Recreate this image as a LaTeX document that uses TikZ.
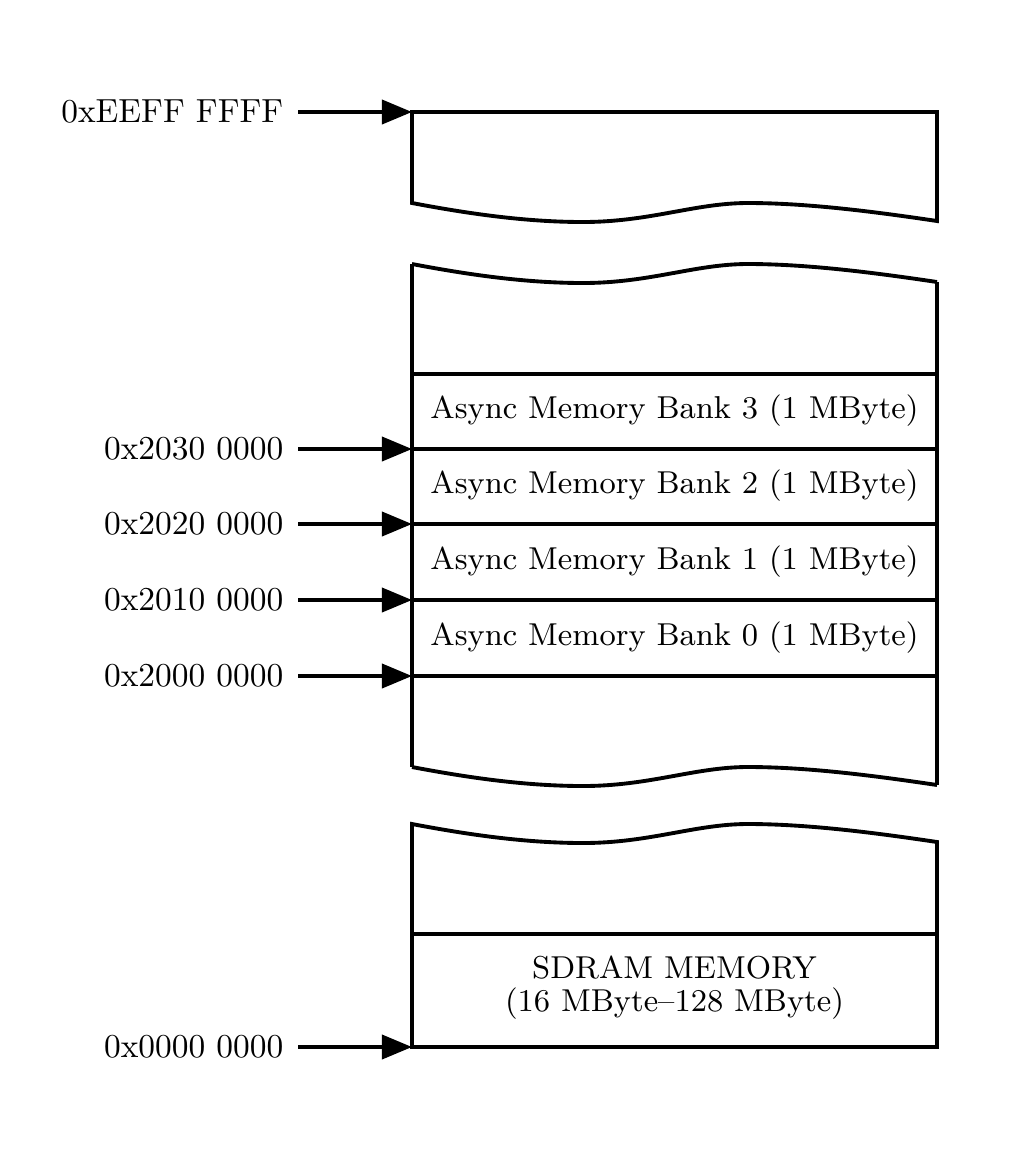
\documentclass[tikz,border=0pt]{standalone}
\usepackage{tikz}
\usetikzlibrary{arrows.meta}

\tikzset{
  memline/.style={line width=1.1pt},
  addrarrow/.style={line width=1.05pt, -{Triangle[length=0.3cm,width=0.24cm]}},
  addrlabel/.style={anchor=east, inner sep=4pt, font=\fontsize{9.5}{11}\selectfont},
  banktext/.style={font=\fontsize{9}{11}\selectfont}
}
% broken edge of a memory region, left to right
\newcommand{\wavy}[1]{(412,#1) .. controls (475,#1+12) and (530,#1+19) .. (583,#1+19) .. controls (650,#1+19) and (695,#1) .. (748,#1) .. controls (805,#1) and (870,#1+8) .. (937,#1+18)}

\begin{document}
\begin{tikzpicture}[x=0.01cm, y=-0.01cm]
    \useasboundingbox (0,0) rectangle (1013,1163);

    % top region
    \draw[memline] \wavy{203} -- (937,112) -- (412,112) -- cycle;

    % middle region with the async banks
    \draw[memline] \wavy{264};
    \draw[memline] \wavy{767};
    \draw[memline] (412,264) -- (412,767);
    \draw[memline] (937,282) -- (937,785);
    \draw[memline] (412,374) -- (937,374);
    \draw[memline] (412,449) -- (937,449);
    \draw[memline] (412,524) -- (937,524);
    \draw[memline] (412,600) -- (937,600);
    \draw[memline] (412,676) -- (937,676);

    \node[banktext] (bank3) at (674.5,411) {Async Memory Bank 3 (1 MByte)};
    \node[banktext] (bank2) at (674.5,486) {Async Memory Bank 2 (1 MByte)};
    \node[banktext] (bank1) at (674.5,562) {Async Memory Bank 1 (1 MByte)};
    \node[banktext] (bank0) at (674.5,638) {Async Memory Bank 0 (1 MByte)};

    % bottom region
    \draw[memline] \wavy{824} -- (937,1047) -- (412,1047) -- cycle;
    \draw[memline] (412,934) -- (937,934);
    \node[banktext, align=center, font=\fontsize{9}{9.4}\selectfont] (sdram) at (674.5,988) {SDRAM MEMORY\\(16 MByte--128 MByte)};

    % addresses
    \coordinate (memtop) at (412,112);
    \coordinate (mem2030) at (412,449);
    \coordinate (mem2020) at (412,524);
    \coordinate (mem2010) at (412,600);
    \coordinate (mem2000) at (412,676);
    \coordinate (mem0000) at (412,1047);

    \node[addrlabel] (addrtop) at (298,112) {0xEEFF FFFF};
    \node[addrlabel] (addr2030) at (298,449) {0x2030 0000};
    \node[addrlabel] (addr2020) at (298,524) {0x2020 0000};
    \node[addrlabel] (addr2010) at (298,600) {0x2010 0000};
    \node[addrlabel] (addr2000) at (298,676) {0x2000 0000};
    \node[addrlabel] (addr0000) at (298,1047) {0x0000 0000};

    \draw[addrarrow] (addrtop.east) -- (memtop);
    \draw[addrarrow] (addr2030.east) -- (mem2030);
    \draw[addrarrow] (addr2020.east) -- (mem2020);
    \draw[addrarrow] (addr2010.east) -- (mem2010);
    \draw[addrarrow] (addr2000.east) -- (mem2000);
    \draw[addrarrow] (addr0000.east) -- (mem0000);

\end{tikzpicture}
\end{document}
